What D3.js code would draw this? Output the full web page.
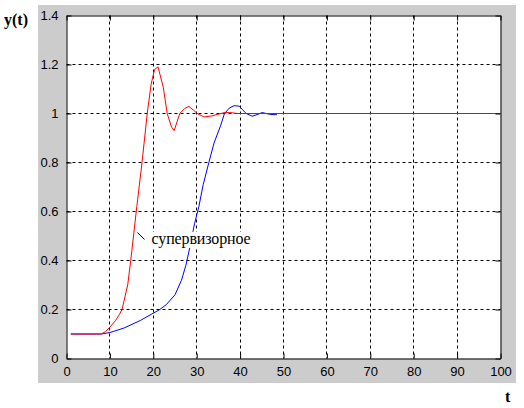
<!DOCTYPE html>
<meta charset="utf-8">
<html>
<head>
<title>y(t)</title>
<script src="https://d3js.org/d3.v7.min.js"></script>
<style>
  body { margin: 0; background: #ffffff; }
  svg { display: block; }
</style>
</head>
<body>
<div id="chart"></div>
<script>
/* data */
var red_t = [1, 8, 9, 10, 11.3, 12.2, 12.8, 14.1, 14.8, 16.2, 17.4, 18.6, 19.5, 20.3, 21.1, 22.3, 23.2, 24.2, 24.8, 26.1, 27.2, 28.2, 29.2, 30.1, 31.7, 33.5, 34.7, 36.5, 38.2, 39.3, 100];
var red_y = [0.1, 0.1, 0.11, 0.128, 0.155, 0.18, 0.2, 0.3, 0.4, 0.62, 0.8, 1.0, 1.12, 1.18, 1.19, 1.107, 1.0, 0.945, 0.93, 1.0, 1.02, 1.029, 1.015, 1.0, 0.986, 0.99, 0.996, 1.004, 1.003, 1.0, 1.0];

var blue_t = [1, 8, 10, 13.2, 17, 21.5, 23, 25, 26.5, 27.5, 28.5, 29.5, 30.5, 31.5, 32.8, 34, 35.5, 36.4, 37.5, 38.6, 39.8, 40.6, 41.4, 42.8, 44.3, 45.1, 46, 47, 48.5];
var blue_y = [0.1, 0.1, 0.106, 0.124, 0.155, 0.2, 0.22, 0.26, 0.32, 0.38, 0.46, 0.55, 0.62, 0.71, 0.8, 0.88, 0.95, 1.0, 1.022, 1.032, 1.03, 1.015, 1.0, 0.989, 0.998, 1.004, 1.0, 0.996, 0.995];

var x_ticks = [0, 10, 20, 30, 40, 50, 60, 70, 80, 90, 100];
var y_ticks = [0, 0.2, 0.4, 0.6, 0.8, 1, 1.2, 1.4];
var y_tick_labels = ["0", "0.2", "0.4", "0.6", "0.8", "1", "1.2", "1.4"];

var note_text = "супервизорное";
var note_at = {t: 19.6, y: 0.468};
var note_arrow = [[16.36, 0.514], [17.97, 0.486]];

/* layout */
var totalWidth = 524, totalHeight = 408;
var plot = {left: 66, right: 500, top: 15, bottom: 358};
var serif = "'Liberation Serif', 'DejaVu Serif', 'Times New Roman', serif";

var svg = d3.select("#chart").append("svg")
    .attr("width", totalWidth)
    .attr("height", totalHeight);

/* gray figure background */
svg.append("rect")
    .attr("x", 38).attr("y", 5)
    .attr("width", 478).attr("height", 378)
    .style("fill", "#cccccc");

var x_scale = d3.scaleLinear().domain([0, 100]).range([plot.left, plot.right]);
var y_scale = d3.scaleLinear().domain([0, 1.4]).range([plot.bottom, plot.top]);

var g = svg.append("g").attr("transform", "translate(0.5,0.5)");

/* white axes area */
g.append("rect")
    .attr("x", plot.left).attr("y", plot.top)
    .attr("width", plot.right - plot.left).attr("height", plot.bottom - plot.top)
    .style("fill", "#ffffff");

/* dashed grid */
g.append("g").selectAll("line")
    .data(x_ticks.slice(1, -1))
    .enter().append("line")
    .attr("x1", function(d){ return Math.round(x_scale(d)); })
    .attr("x2", function(d){ return Math.round(x_scale(d)); })
    .attr("y1", plot.top).attr("y2", plot.bottom)
    .style("stroke", "#000").style("stroke-dasharray", "3,3");

g.append("g").selectAll("line")
    .data(y_ticks.slice(1, -1))
    .enter().append("line")
    .attr("y1", function(d){ return Math.round(y_scale(d)); })
    .attr("y2", function(d){ return Math.round(y_scale(d)); })
    .attr("x1", plot.left).attr("x2", plot.right)
    .style("stroke", "#000").style("stroke-dasharray", "3,3");

/* curves: blue first, red on top */
var line = d3.line()
    .x(function(d){ return x_scale(d[0]); })
    .y(function(d){ return y_scale(d[1]); });

var blue_pts = blue_t.map(function(t, i){ return [t, blue_y[i]]; });
var red_pts = red_t.map(function(t, i){ return [t, red_y[i]]; });

g.append("path").datum(blue_pts)
    .attr("d", line)
    .style("fill", "none").style("stroke", "#0000ff").style("stroke-width", 1);

g.append("path").datum(red_pts)
    .attr("d", line)
    .style("fill", "none").style("stroke", "#ff0000").style("stroke-width", 1);

/* annotation with white box */
var note = g.append("text")
    .attr("x", x_scale(note_at.t))
    .attr("y", y_scale(note_at.y))
    .style("font-family", serif)
    .style("font-size", "16px")
    .attr("textLength", 99)
    .style("fill", "#000")
    .text(note_text);
var bb = note.node().getBBox();
g.insert("rect", "text")
    .attr("x", bb.x - 2).attr("y", bb.y + 2)
    .attr("width", bb.width + 3).attr("height", bb.height - 2)
    .style("fill", "#ffffff");

g.append("line")
    .attr("x1", x_scale(note_arrow[0][0])).attr("y1", y_scale(note_arrow[0][1]))
    .attr("x2", x_scale(note_arrow[1][0])).attr("y2", y_scale(note_arrow[1][1]))
    .style("stroke", "#000");

/* axes with inward ticks */
var x_axis_b = d3.axisBottom(x_scale).tickValues(x_ticks).tickSizeInner(-5).tickSizeOuter(0).tickPadding(8);
var x_axis_t = d3.axisTop(x_scale).tickValues(x_ticks).tickSizeInner(-5).tickSizeOuter(0).tickFormat("");
var y_axis_l = d3.axisLeft(y_scale).tickValues(y_ticks).tickSizeInner(-5).tickSizeOuter(0).tickPadding(8)
    .tickFormat(function(d, i){ return y_tick_labels[i]; });
var y_axis_r = d3.axisRight(y_scale).tickValues(y_ticks).tickSizeInner(-5).tickSizeOuter(0).tickFormat("");

function style_axis(sel){
    sel.selectAll("path").style("stroke", "#000");
    sel.selectAll("line").style("stroke", "#000");
    sel.selectAll("text")
        .style("font-family", "'Liberation Sans', Arial, sans-serif")
        .style("font-size", "13px")
        .style("fill", "#000");
}

g.append("g").attr("transform", "translate(0," + plot.bottom + ")").call(x_axis_b).call(style_axis);
g.append("g").attr("transform", "translate(0," + plot.top + ")").call(x_axis_t).call(style_axis);
g.append("g").attr("transform", "translate(" + plot.left + ",0)").call(y_axis_l).call(style_axis);
g.append("g").attr("transform", "translate(" + plot.right + ",0)").call(y_axis_r).call(style_axis);
g.selectAll(".domain").attr("fill", "none");

/* axis titles */
svg.append("text")
    .attr("x", 4).attr("y", 25)
    .style("font-family", serif)
    .style("font-weight", "bold")
    .style("font-size", "16px")
    .text("y(t)");

svg.append("text")
    .attr("x", 505).attr("y", 402)
    .style("font-family", serif)
    .style("font-weight", "bold")
    .style("font-size", "16px")
    .text("t");
</script>
</body>
</html>
